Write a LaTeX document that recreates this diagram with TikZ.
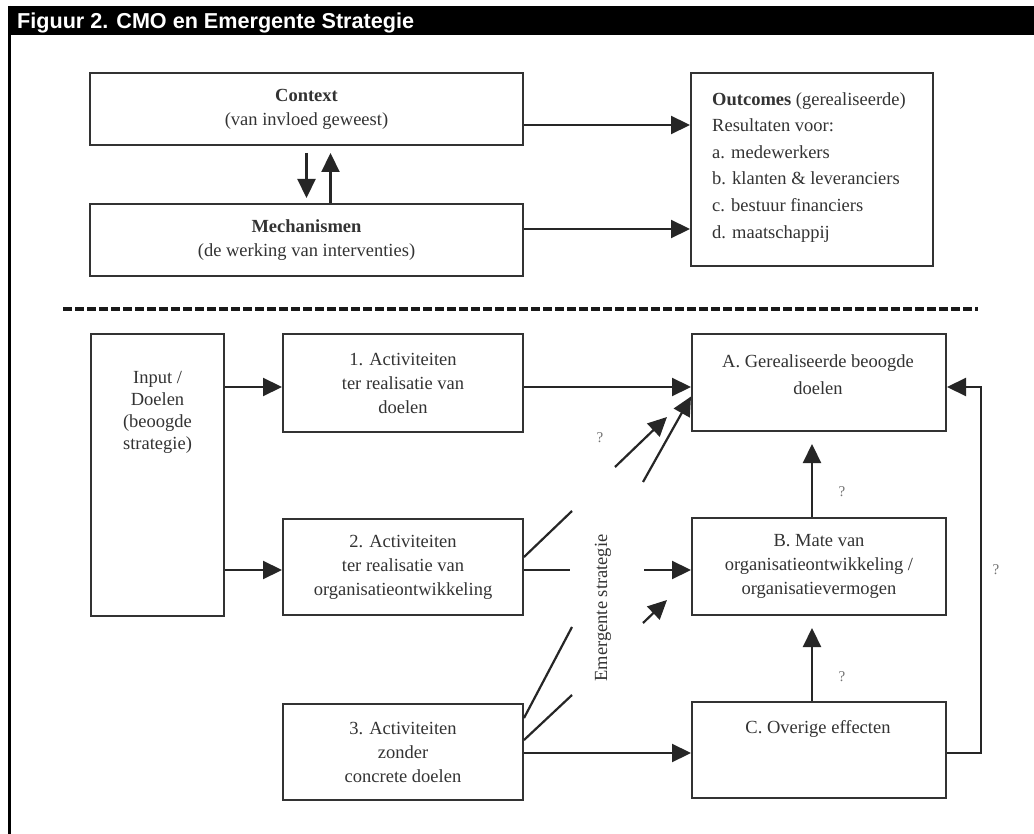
\documentclass[tikz,border=0pt]{standalone}
\usepackage{fontspec}
\setmainfont{Liberation Serif}
\newfontfamily\titlefont{Liberation Sans}
\usetikzlibrary{arrows.meta,calc}
\begin{document}
\begin{tikzpicture}[x=1pt,y=-1pt,
  box/.style={draw=black!80, line width=2pt, rectangle, inner sep=0pt, align=center, text=black!80, font=\fontsize{18.5}{24}\selectfont},
  txt/.style={inner sep=0pt, text=black!80, font=\fontsize{18.5}{24}\selectfont},
  arr/.style={draw=black!85, line width=2.2pt, -{Triangle[length=19pt,width=18pt]}},
  ln/.style={draw=black!85, line width=2.2pt},
  qm/.style={inner sep=0pt, text=black!55, font=\fontsize{15}{18}\selectfont}
]
\useasboundingbox (0,0) rectangle (1034,834);
\fill[white] (0,0) rectangle (1034,834);
% title bar and frame
\fill[black] (8,6) rectangle (1034,35);
\draw[black, line width=3pt] (9.5,6) -- (9.5,834);
\node[anchor=base west, text=white, font=\titlefont\bfseries\fontsize{21.6}{24}\selectfont, inner sep=0pt] (title) at (17,28.5) {Figuur 2. CMO en Emergente Strategie};

% upper part
\node[box, minimum width=433pt, minimum height=72pt] (ctx) at (306.5,109) {\textbf{Context}\\(van invloed geweest)};
\node[box, minimum width=433pt, minimum height=72pt] (mech) at (306.5,240) {\textbf{Mechanismen}\\(de werking van interventies)};
\node[box, minimum width=242pt, minimum height=193pt] (out) at (812,169.5) {};
\node[txt, anchor=north west, align=left, font=\fontsize{18.5}{26.6}\selectfont] (outtxt) at (712,92)
  {\textbf{Outcomes} (gerealiseerde)\\Resultaten voor:\\a. medewerkers\\b. klanten \& leveranciers\\c. bestuur financiers\\d. maatschappij};

\coordinate (c1) at ($(ctx.east)+(0,16)$);
\draw[arr] (c1) -- (c1 -| out.west);
\coordinate (m1) at ($(mech.east)+(0,-11)$);
\draw[arr] (m1) -- (m1 -| out.west);
\draw[arr, shorten <=7pt, shorten >=5pt] (ctx.south) -- (mech.north);
\coordinate (mu) at ($(mech.north)+(24,0)$);
\draw[arr, shorten >=7pt] (mu) -- (mu |- ctx.south);

% dashed separator
\draw[black!90, line width=3.5pt, dash pattern=on 8.5pt off 3.5pt] (63,309) -- (978,309);

% lower part
\node[box, minimum width=133pt, minimum height=282pt] (in) at (157.5,475) {};
\node[txt, anchor=north, align=center, font=\fontsize{18.5}{22}\selectfont] (intxt) at (157.5,371) {Input /\\Doelen\\(beoogde\\strategie)};

\node[box, minimum width=240pt, minimum height=98pt] (b1) at (403,383) {1. Activiteiten\\ter realisatie van\\doelen};
\node[box, minimum width=240pt, minimum height=96pt] (b2) at (403,567) {2. Activiteiten\\ter realisatie van\\organisatieontwikkeling};
\node[box, minimum width=240pt, minimum height=96pt] (b3) at (403,752) {3. Activiteiten\\zonder\\concrete doelen};

\node[box, minimum width=254pt, minimum height=97pt] (bA) at (819,382.5) {};
\node[txt, anchor=north, align=center, font=\fontsize{18.5}{27}\selectfont] (Atxt) at (818,354) {A. Gerealiseerde beoogde\\doelen};
\node[box, minimum width=254pt, minimum height=97pt] (bB) at (819,566.5) {B. Mate van\\organisatieontwikkeling /\\organisatievermogen};
\node[box, minimum width=254pt, minimum height=96pt] (bC) at (819,750) {};
\node[txt, anchor=north, align=center] (Ctxt) at (818,720) {C. Overige effecten};

% input arrows
\coordinate (i1) at ($(b1.west)+(0,4)$);
\draw[arr] (i1 -| in.east) -- (i1);
\coordinate (i2) at ($(b2.west)+(0,3)$);
\draw[arr] (i2 -| in.east) -- (i2);

% activity arrows
\coordinate (a1) at ($(b1.east)+(0,4)$);
\draw[arr] (a1) -- (a1 -| bA.west);
\coordinate (a3) at ($(b3.east)+(0,1)$);
\draw[arr] (a3) -- (a3 -| bC.west);

% result arrows
\coordinate (cb) at ($(bC.north)+(-7,0)$);
\draw[arr, shorten >=12pt] (cb) -- (cb |- bB.south);
\coordinate (ba) at ($(bB.north)+(-7,0)$);
\draw[arr, shorten >=12pt] (ba) -- (ba |- bA.south);
\coordinate (fa) at ($(bA.east)+(0,4.5)$);
\coordinate (fc) at ($(bC.east)+(0,3)$);
\coordinate (fr) at (981,753);
\draw[arr] (fc) -- (fr) |- (fa);

% emergent strategy lines
\coordinate (e1s) at ($(b2.east)+(0,-10)$);
\coordinate (e1e) at (572,511);
\draw[ln] (e1s) -- (e1e);
\coordinate (e2s) at ($(b2.east)+(0,3)$);
\coordinate (e2e) at (570,570);
\draw[ln] (e2s) -- (e2e);
\coordinate (e3s) at ($(b3.east)+(0,-34)$);
\coordinate (e3e) at (572,627);
\draw[ln] (e3s) -- (e3e);
\coordinate (e4s) at ($(b3.east)+(0,-12)$);
\coordinate (e4e) at (572,695);
\draw[ln] (e4s) -- (e4e);

\coordinate (r1s) at (615,467);
\coordinate (r1e) at (667,417);
\draw[arr] (r1s) -- (r1e);
\coordinate (r2s) at (643,482);
\coordinate (r2e) at ($(bA.west)+(0,14)$);
\draw[arr] (r2s) -- (r2e);
\coordinate (r3s) at (644,570);
\draw[arr] (r3s) -- (r3s -| bB.west);
\coordinate (r4s) at (643,623);
\coordinate (r4e) at (667,600);
\draw[arr] (r4s) -- (r4e);

\node[txt, rotate=90] (emg) at (603,608) {Emergente strategie};

% question marks
\node[qm] (q1) at (600,438) {?};
\node[qm] (q2) at (842,492) {?};
\node[qm] (q3) at (842,677) {?};
\node[qm] (q4) at (996,570) {?};
\end{tikzpicture}
\end{document}
